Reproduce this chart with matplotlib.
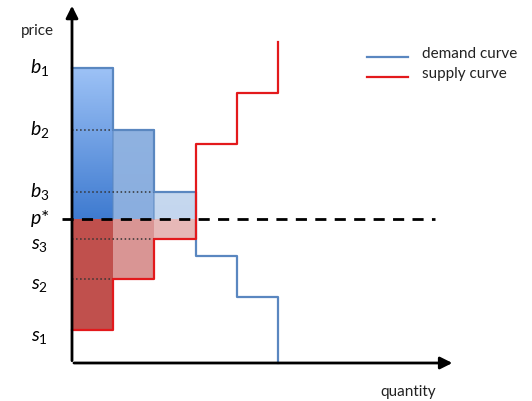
import numpy as np
import matplotlib.pyplot as plt
from matplotlib.colors import LinearSegmentedColormap

plt.rcParams['font.family'] = ['Lato', 'DejaVu Sans']
plt.rcParams['mathtext.fontset'] = 'custom'
plt.rcParams['mathtext.it'] = 'Lato:italic'
plt.rcParams['mathtext.rm'] = 'Lato'

# step curves (quantity steps, prices)
q_steps = [0, 1, 2, 3, 4, 5]
demand_prices = [29.5, 23.3, 17.1, 10.7, 6.6, 0]
supply_prices = [3.3, 8.4, 12.4, 21.9, 27.0, 32.1]
p_star = 14.4

buyer_labels = ['$b_1$', '$b_2$', '$b_3$']
seller_labels = ['$s_1$', '$s_2$', '$s_3$']
legend_labels = ['demand curve', 'supply curve']

surplus_blue = ['#3f7bd0', '#8aaedf', '#c4d6ee']
surplus_blue_top = ['#9dc2f6', '#8fb2e1', '#c6d8ef']
surplus_red = ['#c0504d', '#d99594', '#e6b8b7']

demand_color = '#5a87c0'
supply_color = '#e3191c'

fig = plt.figure(figsize=(5.32, 4.01), dpi=100)
ax = fig.add_axes([0, 0, 1, 1])
ax.set_xlim(-72 / 41.2, 460 / 41.2)
ax.set_ylim(-3.8, 36.3)
ax.axis('off')

# consumer surplus blocks (gradient) and producer surplus blocks
for i in range(3):
    x0, x1 = q_steps[i], q_steps[i + 1]
    cmap = LinearSegmentedColormap.from_list('g', [surplus_blue[i], surplus_blue_top[i]])
    grad = np.linspace(0, 1, 100).reshape(-1, 1)
    ax.imshow(grad, extent=[x0, x1, p_star, demand_prices[i]], origin='lower',
              cmap=cmap, aspect='auto', zorder=1)
    ax.fill_between([x0, x1], supply_prices[i], p_star, color=surplus_red[i],
                    linewidth=0, zorder=1)

# dotted guide lines
ax.plot([0, 1], [demand_prices[1]] * 2, ':', color='#333333', lw=1.1, zorder=3)
ax.plot([0, 2], [demand_prices[2]] * 2, ':', color='#333333', lw=1.1, zorder=3)
ax.plot([0, 2], [supply_prices[2]] * 2, ':', color='#333333', lw=1.1, zorder=3)
ax.plot([0, 1], [supply_prices[1]] * 2, ':', color='#333333', lw=1.1, zorder=3)

# block separators (blue outlines)
ax.plot([1, 1], [p_star, demand_prices[1]], color=demand_color, lw=1.2, alpha=0.6, zorder=2)
ax.plot([2, 2], [p_star, demand_prices[2]], color=demand_color, lw=1.2, alpha=0.6, zorder=2)

# demand and supply step curves
dx, dy = [0], [demand_prices[0]]
for i in range(5):
    dx += [q_steps[i + 1], q_steps[i + 1]]
    dy += [demand_prices[i], demand_prices[i + 1]]
ax.plot(dx, dy, color=demand_color, lw=1.6, zorder=4)

sx, sy = [0], [supply_prices[0]]
for i in range(5):
    sx += [q_steps[i + 1], q_steps[i + 1]]
    sy += [supply_prices[i], supply_prices[i + 1]]
ax.plot(sx, sy, color=supply_color, lw=1.6, zorder=4)

# equilibrium price line
ax.plot([-0.25, 8.8], [p_star, p_star], '--', color='black', lw=2, dashes=(4, 3), zorder=5)

# axes with arrows
ax.annotate('', xy=(0, 36.0), xytext=(0, -0.05),
            arrowprops=dict(arrowstyle='-|>', color='black', lw=2.0, mutation_scale=18), zorder=6)
ax.annotate('', xy=(9.3, 0), xytext=(-0.02, 0),
            arrowprops=dict(arrowstyle='-|>', color='black', lw=2.0, mutation_scale=18), zorder=6)

ax.text(-0.85, 33.2, 'price', fontsize=11, ha='center', va='center', color='#222222')
ax.text(8.15, -2.9, 'quantity', fontsize=11, ha='center', va='center', color='#222222')

for lab, p in zip(buyer_labels, demand_prices[:3]):
    ax.text(-0.78, p, lab, fontsize=14, ha='center', va='center')
for lab, p in zip(seller_labels, supply_prices[:3]):
    ax.text(-0.78, p - 0.7, lab, fontsize=14, ha='center', va='center')
ax.text(-0.78, p_star, '$p$*', fontsize=14, ha='center', va='center')

# legend drawn by hand
for k, (lab, col) in enumerate(zip(legend_labels, [demand_color, supply_color])):
    yy = 30.6 - 2.0 * k
    ax.plot([7.15, 8.15], [yy, yy], color=col, lw=1.6)
    ax.text(8.5, yy + 0.25, lab, fontsize=11, ha='left', va='center', color='#222222')

fig.savefig('out.png', dpi=100)
